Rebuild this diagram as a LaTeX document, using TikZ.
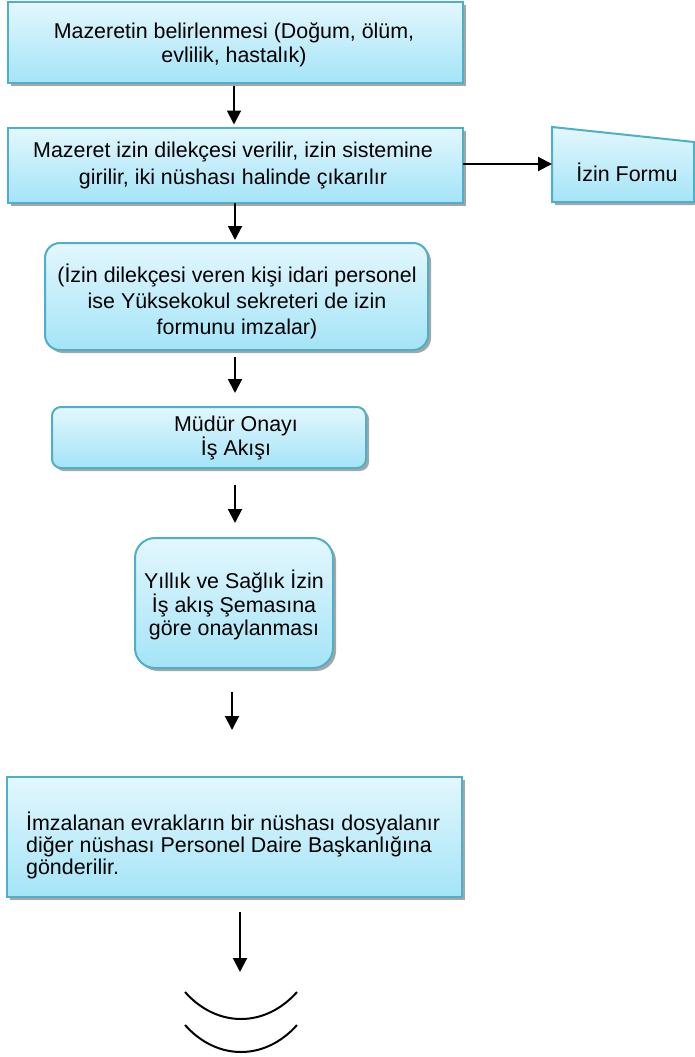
\documentclass[tikz,border=0pt]{standalone}
\usepackage{fontspec}
\setmainfont{Liberation Sans}
\usetikzlibrary{shadows,arrows.meta}
\definecolor{boxline}{HTML}{4FAFC9}
\definecolor{boxtop}{HTML}{E3F7FD}
\definecolor{boxbottom}{HTML}{A4E4F7}
\definecolor{shadowgray}{HTML}{A6A6A6}
\tikzset{
  flowbox/.style={draw=boxline, line width=2pt, top color=boxtop, bottom color=boxbottom,
    drop shadow={shadow xshift=3pt, shadow yshift=-3pt, fill=shadowgray, opacity=1},
    inner sep=0pt, outer sep=0pt},
  roundbox/.style={flowbox, rounded corners=#1},
  flowarrow/.style={line width=2pt, -{Triangle[length=14pt,width=14pt]}},
  boxtext/.style={align=center, inner sep=0pt, font=\fontsize{21.4}{#1}\selectfont},
  boxtext/.default=24.5,
  connline/.style={line width=2pt}
}
\begin{document}
\begin{tikzpicture}[x=1pt,y=-1pt]
\useasboundingbox (0,0) rectangle (695,1057);

% process boxes
\node[flowbox, minimum width=455pt, minimum height=81pt] (box1) at (235,42.5) {};
\node[boxtext] (t1) at (234,45) {Mazeretin belirlenmesi (Doğum, ölüm,\\evlilik, hastalık)};

\node[flowbox, minimum width=455pt, minimum height=75pt] (box2) at (235,165) {};
\node[boxtext=27] (t2) at (233,166) {Mazeret izin dilekçesi verilir, izin sistemine\\girilir, iki nüshası halinde çıkarılır};

\node[roundbox=15pt, minimum width=383pt, minimum height=107pt] (box3) at (236.5,296.5) {};
\node[boxtext=26] (t3) at (237,301) {(İzin dilekçesi veren kişi idari personel\\ise Yüksekokul sekreteri de izin\\formunu imzalar)};

\node[roundbox=9pt, minimum width=314pt, minimum height=61pt] (box4) at (209,437.5) {};
\node[boxtext=23.5] (t4) at (236,438) {Müdür Onayı\\İş Akışı};

\node[roundbox=20pt, minimum width=198pt, minimum height=130pt] (box5) at (234,603) {};
\node[boxtext=23] (t5) at (234,605) {Yıllık ve Sağlık İzin\\İş akış Şemasına\\göre onaylanması};

\node[flowbox, minimum width=455pt, minimum height=120pt] (box6) at (234.5,837) {};
\node[boxtext=22, align=left, anchor=west] (t6) at (26,845) {İmzalanan evrakların bir nüshası dosyalanır\\diğer nüshası Personel Daire Başkanlığına\\gönderilir.};

% manual input: form
\path[draw=boxline, line width=2pt, top color=boxtop, bottom color=boxbottom,
  drop shadow={shadow xshift=3pt, shadow yshift=-3pt, fill=shadowgray, opacity=1}]
  (552,127) -- (694,142) -- (694,202) -- (552,202) -- cycle;
\coordinate (formleft) at (552,164);
\node[boxtext] (form) at (627,172) {İzin Formu};

% off-page connector
\coordinate (offpage) at (240,992);
\draw[connline] (185,992) .. controls (217,1028) and (265,1028) .. (297,992);
\draw[connline] (185,1025) .. controls (217,1061) and (265,1061) .. (297,1025);

% connectors
\draw[flowarrow, shorten <=3pt, shorten >=3pt] (box1.south -| 234,0) -- (box2.north -| 234,0);
\draw[flowarrow, shorten >=3pt] (box2.south -| 235,0) -- (box3.north -| 235,0);
\draw[flowarrow, shorten <=7pt, shorten >=14pt] (box3.south -| 235,0) -- (box4.north -| 235,0);
\draw[flowarrow, shorten <=17pt, shorten >=15pt] (box4.south -| 235,0) -- (box5.north -| 235,0);
\draw[flowarrow, shorten <=24pt, shorten >=47pt] (box5.south -| 232,0) -- (box6.north -| 232,0);
\draw[flowarrow, shorten <=15pt, shorten >=20pt] (box6.south -| 240,0) -- (offpage);
\draw[flowarrow] (box2.east |- formleft) -- (formleft);
\end{tikzpicture}
\end{document}
